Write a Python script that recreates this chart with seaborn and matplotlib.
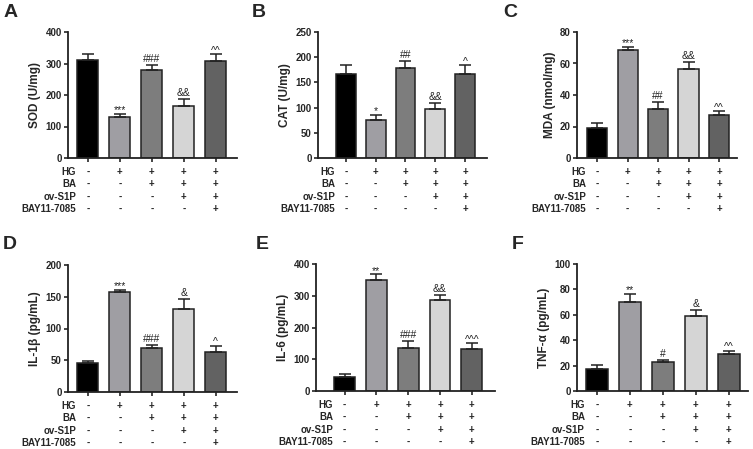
import numpy as np
import pandas as pd
import seaborn as sns
import matplotlib.pyplot as plt
import matplotlib.transforms as mtransforms

# groupes et valeurs
groups = ["Control", "HG", "HG+BA", "HG+BA+ov-S1P", "HG+BA+ov-S1P+BAY"]
row_names = ["HG", "BA", "ov-S1P", "BAY11-7085"]
row_signs = [["-", "+", "+", "+", "+"],
             ["-", "-", "+", "+", "+"],
             ["-", "-", "-", "+", "+"],
             ["-", "-", "-", "-", "+"]]
bar_colors = ["#000000", "#9e9da4", "#7d7d7d", "#d5d5d5", "#626262"]

sod_mean = [311, 129, 278, 164, 309]
sod_err = [19, 12, 17, 23, 21]
sod_sig = ["", "***", "###", "&&", "^^"]

cat_mean = [166, 75, 178, 98, 166]
cat_err = [19, 11, 14, 11, 18]
cat_sig = ["", "*", "##", "&&", "^"]

mda_mean = [19, 68.6, 31, 56.8, 27.6]
mda_err = [3, 2.1, 4.4, 4.2, 2.1]
mda_sig = ["", "***", "##", "&&", "^^"]

il1b_mean = [46, 157, 69.5, 131, 63]
il1b_err = [3, 4, 5, 15, 10]
il1b_sig = ["", "***", "###", "&", "^"]

il6_mean = [45, 349, 135, 287, 133]
il6_err = [7, 19, 24, 15, 18]
il6_sig = ["", "**", "###", "&&", "^^^"]

tnf_mean = [17.7, 70.4, 23, 58.8, 28.8]
tnf_err = [2.9, 6.1, 1.5, 4.8, 2.9]
tnf_sig = ["", "**", "#", "&", "^^"]

panels = [
    # lettre, ylabel, moyennes, erreurs, signif, ymax, pas, rect pixels (gauche, droite, haut, bas), xlim, position lettre
    ("A", "SOD (U/mg)", sod_mean, sod_err, sod_sig, 400, 100, (68, 237, 32, 158), (-0.62, 4.66), (4, 4)),
    ("B", "CAT (U/mg)", cat_mean, cat_err, cat_sig, 250, 50, (318, 487, 32, 158), (-0.94, 4.74), (252, 4)),
    ("C", "MDA (nmol/mg)", mda_mean, mda_err, mda_sig, 80, 20, (577, 737, 32, 158), (-0.66, 4.59), (503, 4)),
    ("D", "IL-1\u03b2 (pg/mL)", il1b_mean, il1b_err, il1b_sig, 200, 50, (68, 237, 265, 392), (-0.62, 4.66), (3, 236)),
    ("E", "IL-6 (pg/mL)", il6_mean, il6_err, il6_sig, 400, 100, (316, 495, 264, 391), (-0.9, 4.73), (256, 236)),
    ("F", "TNF-\u03b1 (pg/mL)", tnf_mean, tnf_err, tnf_sig, 100, 20, (577, 748, 264, 391), (-0.6, 4.58), (512, 236)),
]

W, H = 753, 449
sns.set_theme(style="ticks")
plt.rcParams["font.family"] = ["Liberation Sans", "DejaVu Sans"]
plt.rcParams["font.weight"] = "bold"

fig = plt.figure(figsize=(W / 100, H / 100), dpi=100)

for letter, ylab, means, errs, sigs, ymax, step, rect, xl, lxy in panels:
    left, right, top, bottom = rect
    ax = fig.add_axes([left / W, 1 - bottom / H, (right - left) / W, (bottom - top) / H])
    df = pd.DataFrame({"group": groups, "value": means})
    sns.barplot(data=df, x="group", y="value", hue="group", palette=bar_colors,
                order=groups, legend=False, width=0.66, edgecolor="#222222",
                linewidth=1.1, ax=ax, errorbar=None)
    xs = np.arange(len(groups))
    ax.errorbar(xs, means, yerr=[np.zeros(len(errs)), errs], fmt="none",
                ecolor="#222222", elinewidth=1.1, capsize=4.5, capthick=1.1)
    for x, m, e, s in zip(xs, means, errs, sigs):
        if s:
            # décalage en pixels au-dessus du chapeau de la barre d'erreur
            px = 0.5 if s[0] in "*^" else 3.0
            tr = ax.transData + mtransforms.ScaledTranslation(0, px / 100, fig.dpi_scale_trans)
            ax.text(x, m + e, s, transform=tr, ha="center", va="baseline",
                    fontsize=7.5, fontweight="normal", color="#222222")
    ax.set_ylim(0, ymax)
    ax.set_yticks(np.arange(0, ymax + 1, step))
    ax.set_xlim(*xl)
    ax.set_xticks(xs)
    ax.set_xticklabels([])
    ax.set_xlabel("")
    ax.set_ylabel(ylab, fontsize=8.5, fontweight="bold", labelpad=3)
    ax.tick_params(axis="y", labelsize=7, length=3, width=1.2, pad=1.5)
    ax.tick_params(axis="x", length=3, width=1.2)
    for lab in ax.get_yticklabels():
        lab.set_fontweight("bold")
    sns.despine(ax=ax)
    for sp in ("left", "bottom"):
        ax.spines[sp].set_linewidth(1.3)
        ax.spines[sp].set_color("#222222")

    # tableau des traitements sous l'axe
    for i, (name, signs) in enumerate(zip(row_names, row_signs)):
        dy = -(13.8 + 12.5 * i) / 100
        tr = ax.get_xaxis_transform() + mtransforms.ScaledTranslation(0, dy, fig.dpi_scale_trans)
        ax.text(-0.36, 0, name, transform=tr, ha="right", va="center",
                fontsize=7, fontweight="bold", clip_on=False)
        for x, s in zip(xs, signs):
            ax.text(x, 0, s, transform=tr, ha="center", va="center",
                    fontsize=7, fontweight="bold", clip_on=False)

    fig.text(lxy[0] / W, 1 - lxy[1] / H, letter, ha="left", va="top",
             fontsize=14, fontweight="bold")

fig.savefig("out.png", dpi=100)
